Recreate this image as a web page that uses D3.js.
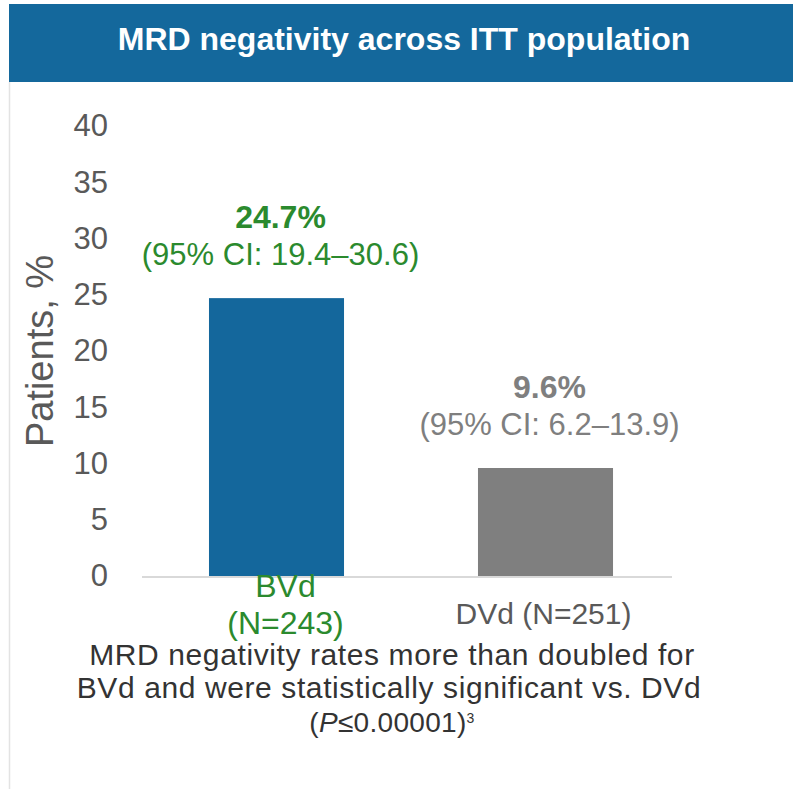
<!DOCTYPE html>
<html>
<head>
<meta charset="utf-8">
<script src="https://cdn.jsdelivr.net/npm/d3@7"></script>
<style>
  body { margin: 0; background: #fff; }
  svg { display: block; font-family: "Liberation Sans", Arial, sans-serif; }
</style>
</head>
<body>
<div class="chart"></div>
<script>
// data
var categories = ["BVd", "DVd"];
var values = [24.7, 9.6];
var ciLabels = ["(95% CI: 19.4\u201330.6)", "(95% CI: 6.2\u201313.9)"];
var catLabels = [["BVd", "(N=243)"], ["DVd (N=251)"]];
var yTicks = [0, 5, 10, 15, 20, 25, 30, 35, 40];

var svgWidth = 793, svgHeight = 789;
var barColors = ["#14679c", "#7f7f7f"];
var valueColors = ["#2b8a2e", "#7f7f7f"];
var catColors = ["#2b8a2e", "#595959"];

var svg = d3.select(".chart").append("svg")
  .attr("width", svgWidth)
  .attr("height", svgHeight);

// header band + left border
svg.append("rect").attr("x", 9).attr("y", 4).attr("width", svgWidth - 9).attr("height", 78)
  .attr("fill", "#14689c");
svg.append("line").attr("x1", 9.5).attr("x2", 9.5).attr("y1", 82).attr("y2", svgHeight)
  .attr("stroke", "#e3e3e3").attr("stroke-width", 1.5);
svg.append("text").attr("x", 404).attr("y", 50).attr("text-anchor", "middle")
  .attr("fill", "#fff").attr("font-weight", "bold").attr("font-size", 32)
  .text("MRD negativity across ITT population");

var x = d3.scaleBand().domain(categories).range([142, 680])
  .paddingInner(0.498).paddingOuter(0.249);
var y = d3.scaleLinear().domain([0, 40]).range([576, 126]);

var chartGroup = svg.append("g");

// y axis (labels only)
var yAxis = d3.axisLeft(y).tickValues(yTicks).tickSize(0).tickPadding(0);
var yg = chartGroup.append("g").attr("transform", "translate(108,0)").call(yAxis);
yg.select(".domain").remove();
yg.selectAll("text").attr("font-size", 31).attr("fill", "#595959")
  .attr("font-family", "Liberation Sans, Arial, sans-serif");

svg.append("text")
  .attr("transform", "translate(53,351) rotate(-90)")
  .attr("text-anchor", "middle").attr("font-size", 38).attr("fill", "#595959")
  .text("Patients, %");

// bars
chartGroup.selectAll("rect.bar").data(values).enter().append("rect")
  .attr("class", "bar")
  .attr("x", (d, i) => x(categories[i]))
  .attr("y", d => y(d))
  .attr("width", x.bandwidth())
  .attr("height", d => y(0) - y(d))
  .attr("fill", (d, i) => barColors[i]);

// baseline
chartGroup.append("line").attr("x1", 142).attr("x2", 672)
  .attr("y1", y(0) + 1).attr("y2", y(0) + 1)
  .attr("stroke", "#d9d9d9").attr("stroke-width", 2);

// value labels
var cx = c => x(c) + x.bandwidth() / 2 + 4;
chartGroup.selectAll("text.val").data(values).enter().append("text")
  .attr("class", "val")
  .attr("x", (d, i) => cx(categories[i]))
  .attr("y", d => y(d) - 70)
  .attr("text-anchor", "middle").attr("font-weight", "bold").attr("font-size", 32)
  .attr("fill", (d, i) => valueColors[i])
  .text(d => d + "%");
chartGroup.selectAll("text.ci").data(values).enter().append("text")
  .attr("class", "ci")
  .attr("x", (d, i) => cx(categories[i]))
  .attr("y", d => y(d) - 33)
  .attr("text-anchor", "middle").attr("font-size", 31)
  .attr("fill", (d, i) => valueColors[i])
  .text((d, i) => ciLabels[i]);

// category labels
categories.forEach(function (c, i) {
  var lines = catLabels[i];
  var t = chartGroup.append("text").attr("text-anchor", "middle")
    .attr("font-size", lines.length > 1 ? 32 : 30).attr("fill", catColors[i]);
  var y0 = lines.length > 1 ? 597 : 624;
  var xc = x(c) + x.bandwidth() / 2 + (lines.length > 1 ? 9 : -2);
  lines.forEach(function (s, j) {
    t.append("tspan").attr("x", xc).attr("y", y0 + j * 37).text(s);
  });
});

// footnote
var foot = svg.append("text").attr("text-anchor", "middle").attr("font-size", 30)
  .attr("letter-spacing", 0.6).attr("fill", "#333");
foot.append("tspan").attr("x", 392).attr("y", 665).text("MRD negativity rates more than doubled for");
foot.append("tspan").attr("x", 389).attr("y", 698).text("BVd and were statistically significant vs. DVd");
var f3 = svg.append("text").attr("text-anchor", "middle").attr("font-size", 28).attr("fill", "#333")
  .attr("letter-spacing", 0.3).attr("x", 392).attr("y", 732);
f3.append("tspan").text("(");
f3.append("tspan").attr("font-style", "italic").text("P");
f3.append("tspan").text("\u22640.00001)");
f3.append("tspan").attr("font-size", 14).attr("dy", -9).text("3");
</script>
</body>
</html>
